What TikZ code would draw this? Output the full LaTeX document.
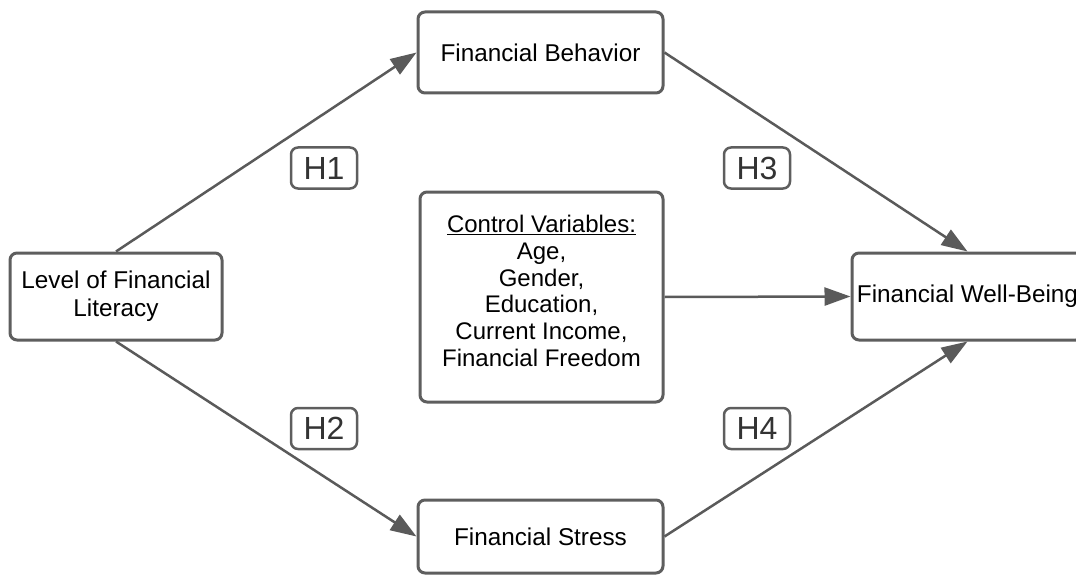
\documentclass[tikz,border=0pt]{standalone}
\usepackage{fontspec}
\setmainfont{Liberation Sans}
\usepackage{tikz}
\usepackage{xcolor}
\usetikzlibrary{arrows.meta}
\definecolor{boxgray}{HTML}{5E5E5E}
\definecolor{linegray}{HTML}{5A5A5A}

\begin{document}
\begin{tikzpicture}[x=1pt,y=-1pt,
  varbox/.style={draw=boxgray,line width=3pt,rounded corners=7pt,fill=white,
    align=center,inner sep=0pt,font=\fontsize{24.3}{28}\selectfont},
  hypbox/.style={draw=boxgray,line width=2.5pt,rounded corners=7pt,fill=white,
    minimum width=66pt,minimum height=41pt,inner sep=0pt,
    font=\fontsize{32}{34}\selectfont,text=black!80},
  path/.style={draw=linegray,line width=2.5pt,-{Triangle[length=26pt,width=18pt]}}]
\useasboundingbox (0,0) rectangle (1076,575);
% the variables
\node[varbox,minimum width=212pt,minimum height=87pt] (lit) at (116,296.5) {Level of Financial\\Literacy};
\node[varbox,minimum width=245pt,minimum height=81pt] (beh) at (540.5,52.5) {Financial Behavior};
\node[varbox,minimum width=243pt,minimum height=210pt] (ctrl) at (541.5,297) {};
\node[align=center,inner sep=0pt,font=\fontsize{24}{26.8}\selectfont] (ctrltext) at ([yshift=6pt]ctrl.center)
  {\underline{Control Variables:}\\Age,\\Gender,\\Education,\\Current Income,\\Financial Freedom};
\node[varbox,minimum width=231pt,minimum height=87pt] (wb) at (967.5,296.5) {Financial Well-Being};
\node[varbox,minimum width=245pt,minimum height=73pt] (str) at (540.5,536.5) {Financial Stress};
% the paths
\draw[path] (lit.north) -- (beh.west);
\draw[path] (lit.south) -- (str.west);
\draw[path] (beh.east) -- (wb.north);
\draw[path] (str.east) -- (wb.south);
\draw[path] (ctrl.east) -- (wb.west);
% hypotheses
\node[hypbox] (h1) at (324,168) {H1};
\node[hypbox] (h2) at (324,428.5) {H2};
\node[hypbox] (h3) at (757,168) {H3};
\node[hypbox] (h4) at (757,428.5) {H4};
\end{tikzpicture}
\end{document}
